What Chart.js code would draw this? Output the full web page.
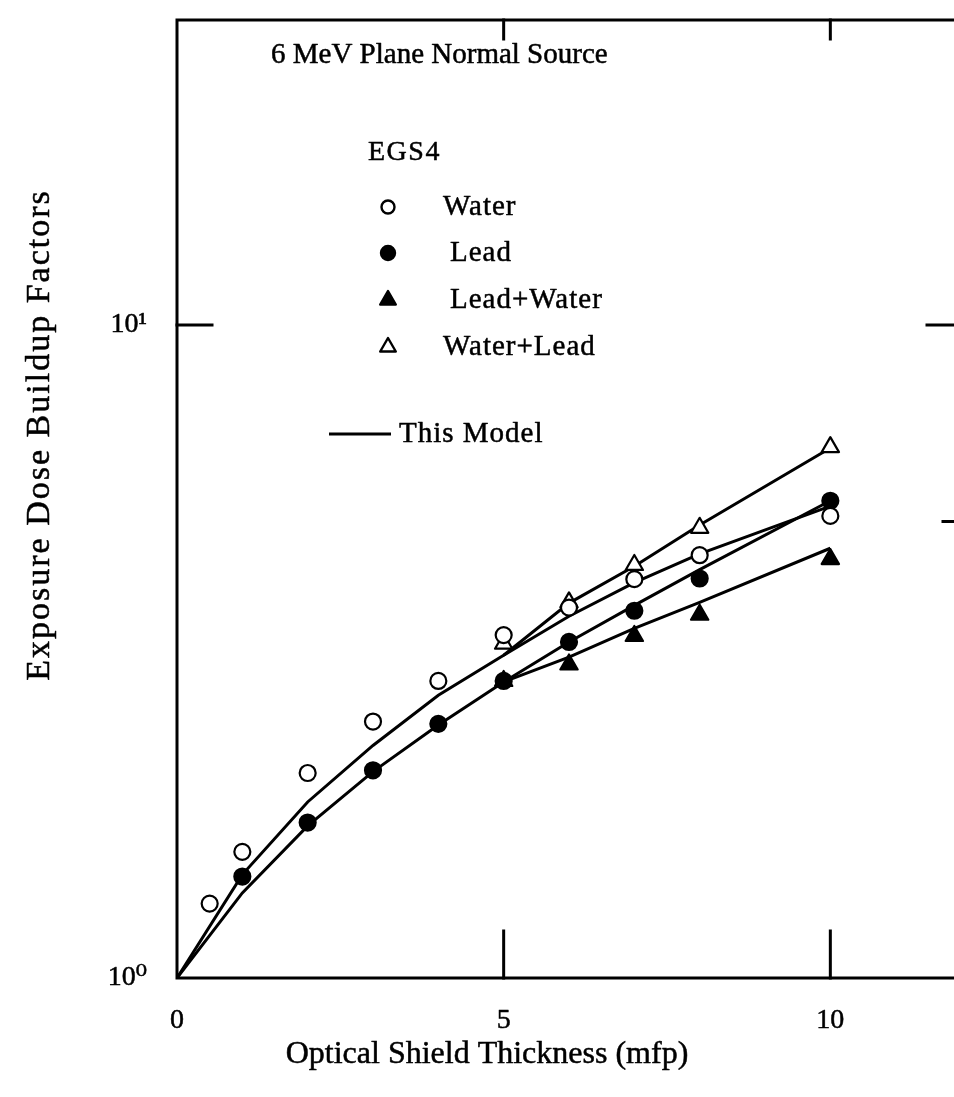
<!DOCTYPE html>
<html>
<head>
<meta charset="utf-8">
<script src="https://cdn.jsdelivr.net/npm/chart.js@4"></script>
<style>
  html, body { margin: 0; padding: 0; background: #fff; overflow: hidden; }
  #wrap { position: relative; width: 980px; height: 1097px; }
</style>
</head>
<body>
<div id="wrap"><canvas id="buildupChart" width="980" height="1097"></canvas></div>
<script>
// exposure dose buildup factors, 6 MeV plane normal source
var modelX = [0, 1, 2, 3, 4, 5, 6, 7, 8, 10]
var waterModel = [1, 1.44, 1.86, 2.27, 2.71, 3.12, 3.58, 4.03, 4.46, 5.28]
var leadModel = [1, 1.35, 1.71, 2.07, 2.44, 2.84, 3.27, 3.72, 4.22, 5.38]
var layerX = [5, 6, 7, 8, 10]
var leadWaterModel = [2.84, 3.10, 3.43, 3.76, 4.55]
var waterLeadModel = [3.12, 3.75, 4.27, 4.94, 6.48]

// EGS4 points
var waterX = [0.5, 1, 2, 3, 4, 5, 6, 7, 8, 10]
var waterEgs = [1.30, 1.56, 2.06, 2.47, 2.85, 3.35, 3.69, 4.08, 4.44, 5.10]
var leadX = [1, 2, 3, 4, 5, 6, 7, 8, 10]
var leadEgs = [1.43, 1.73, 2.08, 2.45, 2.85, 3.27, 3.65, 4.09, 5.38]
var leadWaterEgs = [2.85, 3.02, 3.34, 3.60, 4.38]
var waterLeadEgs = [3.25, 3.76, 4.29, 4.89, 6.50]

var xTicks = [0, 5, 10]
var yTicks = [1, 10]
var yTickLabels = ['10⁰', '10¹']
var legendLabels = ['Water', 'Lead', 'Lead+Water', 'Water+Lead']
var legendStyles = [
  {pointStyle: 'circle', fill: '#fff', r: 6.5},
  {pointStyle: 'circle', fill: '#000', r: 7},
  {pointStyle: 'triangle', fill: '#000', r: 9},
  {pointStyle: 'triangle', fill: '#fff', r: 9}
]

var serif = '"Liberation Serif", "DejaVu Serif", serif'

function pts(xs, ys) {
  return xs.map(function (x, i) { return {x: x, y: ys[i]} })
}

function modelLine(xs, ys) {
  return {
    data: pts(xs, ys),
    showLine: true,
    borderColor: '#000',
    borderWidth: 3,
    pointRadius: 0,
    tension: 0,
    fill: false,
    order: 2
  }
}

function egsPoints(label, xs, ys, style, fill) {
  return {
    label: label,
    data: pts(xs, ys),
    showLine: false,
    pointStyle: style,
    pointRadius: style === 'triangle' ? 10 : 8,
    pointBorderWidth: 2.2,
    pointBackgroundColor: fill,
    pointBorderColor: '#000',
    order: 1
  }
}

// text with a thin outline so it reads as heavy as the axis lines
function inkText(ctx, txt, x, y) {
  ctx.fillText(txt, x, y)
  ctx.strokeText(txt, x, y)
}

// round joins keep the outlined glyphs free of miter spikes
var joinPlugin = {
  id: 'joins',
  beforeDraw: function (chart) {
    chart.ctx.lineJoin = 'round'
  }
}

// box round the plot plus the short inward ticks
var framePlugin = {
  id: 'frame',
  afterDraw: function (chart) {
    var ctx = chart.ctx, a = chart.chartArea
    var x = chart.scales.x, y = chart.scales.y
    ctx.save()
    ctx.strokeStyle = '#000'
    ctx.lineWidth = 3
    ctx.lineCap = 'square'
    ctx.lineJoin = 'miter'
    ctx.strokeRect(a.left, a.top, a.right - a.left, a.bottom - a.top)

    ctx.beginPath()
    ;[5, 10].forEach(function (v) {
      var px = x.getPixelForValue(v)
      ctx.moveTo(px, a.bottom); ctx.lineTo(px, a.bottom - 47)
      ctx.moveTo(px, a.top); ctx.lineTo(px, a.top + 19)
    })
    var p10 = y.getPixelForValue(10)
    ctx.moveTo(a.left, p10); ctx.lineTo(a.left + 35, p10)
    ctx.moveTo(a.right, p10); ctx.lineTo(a.right - 34, p10)
    var p5 = y.getPixelForValue(5)
    ctx.moveTo(a.right, p5); ctx.lineTo(a.right - 18, p5)
    ctx.stroke()
    ctx.restore()
  }
}

// axis titles, heading and key
var textPlugin = {
  id: 'texts',
  afterDraw: function (chart) {
    var ctx = chart.ctx
    ctx.save()
    ctx.fillStyle = '#000'
    ctx.strokeStyle = '#000'
    ctx.lineJoin = 'round'
    ctx.lineWidth = 0.5
    ctx.textBaseline = 'middle'

    ctx.textAlign = 'center'
    ctx.font = '32px ' + serif
    inkText(ctx, 'Optical Shield Thickness (mfp)', 487, 1055)

    ctx.save()
    ctx.translate(40, 435)
    ctx.rotate(-Math.PI / 2)
    ctx.font = '34px ' + serif
    ctx.letterSpacing = '2px'
    inkText(ctx, 'Exposure Dose Buildup Factors', 0, 0)
    ctx.restore()

    ctx.textAlign = 'left'
    ctx.font = '29px ' + serif
    inkText(ctx, '6 MeV Plane Normal Source', 271, 55)

    ctx.font = '28px ' + serif
    ctx.letterSpacing = '1.5px'
    inkText(ctx, 'EGS4', 368, 153)

    ctx.font = '29px ' + serif
    ctx.letterSpacing = '1px'
    var rows = [207, 253, 300, 347]
    legendLabels.forEach(function (txt, i) {
      var st = legendStyles[i]
      ctx.fillStyle = st.fill
      ctx.lineWidth = 2.4
      Chart.helpers.drawPoint(ctx, {
        pointStyle: st.pointStyle,
        radius: st.r,
        borderWidth: 2.4,
        rotation: 0
      }, 388, rows[i])
      ctx.fillStyle = '#000'
      ctx.lineWidth = 0.5
      inkText(ctx, txt, i === 0 || i === 3 ? 443 : 450, rows[i])
    })

    ctx.lineWidth = 3
    ctx.beginPath()
    ctx.moveTo(329, 434); ctx.lineTo(391, 434)
    ctx.stroke()
    ctx.lineWidth = 0.5
    inkText(ctx, 'This Model', 399, 434)
    ctx.restore()
  }
}

var ctx = document.getElementById('buildupChart')
var buildupChart = new Chart(ctx, {
  type: 'scatter',
  data: {
    datasets: [
      modelLine(modelX, waterModel),
      modelLine(modelX, leadModel),
      modelLine(layerX, leadWaterModel),
      modelLine(layerX, waterLeadModel),
      egsPoints('Water', waterX, waterEgs, 'circle', '#fff'),
      egsPoints('Lead', leadX, leadEgs, 'circle', '#000'),
      egsPoints('Lead+Water', layerX, leadWaterEgs, 'triangle', '#000'),
      egsPoints('Water+Lead', layerX, waterLeadEgs, 'triangle', '#fff')
    ]
  },
  options: {
    responsive: false,
    animation: false,
    layout: {padding: {top: 20, right: 19, left: 0, bottom: 0}},
    plugins: {
      legend: {display: false},
      tooltip: {enabled: false}
    },
    scales: {
      x: {
        type: 'linear',
        min: 0,
        max: 12,
        grid: {display: false},
        border: {display: false},
        afterBuildTicks: function (s) { s.ticks = xTicks.map(function (v) { return {value: v} }) },
        afterFit: function (s) {
          s.height = 119
          s.paddingLeft = 0
          s.paddingRight = 0
        },
        ticks: {
          color: '#000',
          padding: 18,
          maxRotation: 0,
          textStrokeColor: '#000',
          textStrokeWidth: 0.5,
          font: {family: serif, size: 28}
        }
      },
      y: {
        type: 'logarithmic',
        min: 1,
        max: 29.3,
        grid: {display: false},
        border: {display: false},
        afterBuildTicks: function (s) { s.ticks = yTicks.map(function (v) { return {value: v} }) },
        afterFit: function (s) {
          s.width = 177
          s.paddingTop = 0
          s.paddingBottom = 0
        },
        ticks: {
          color: '#000',
          padding: 22,
          textStrokeColor: '#000',
          textStrokeWidth: 0.5,
          font: {family: serif, size: 28},
          callback: function (v) { return yTickLabels[yTicks.indexOf(v)] }
        }
      }
    }
  },
  plugins: [joinPlugin, framePlugin, textPlugin]
})
</script>
</body>
</html>
